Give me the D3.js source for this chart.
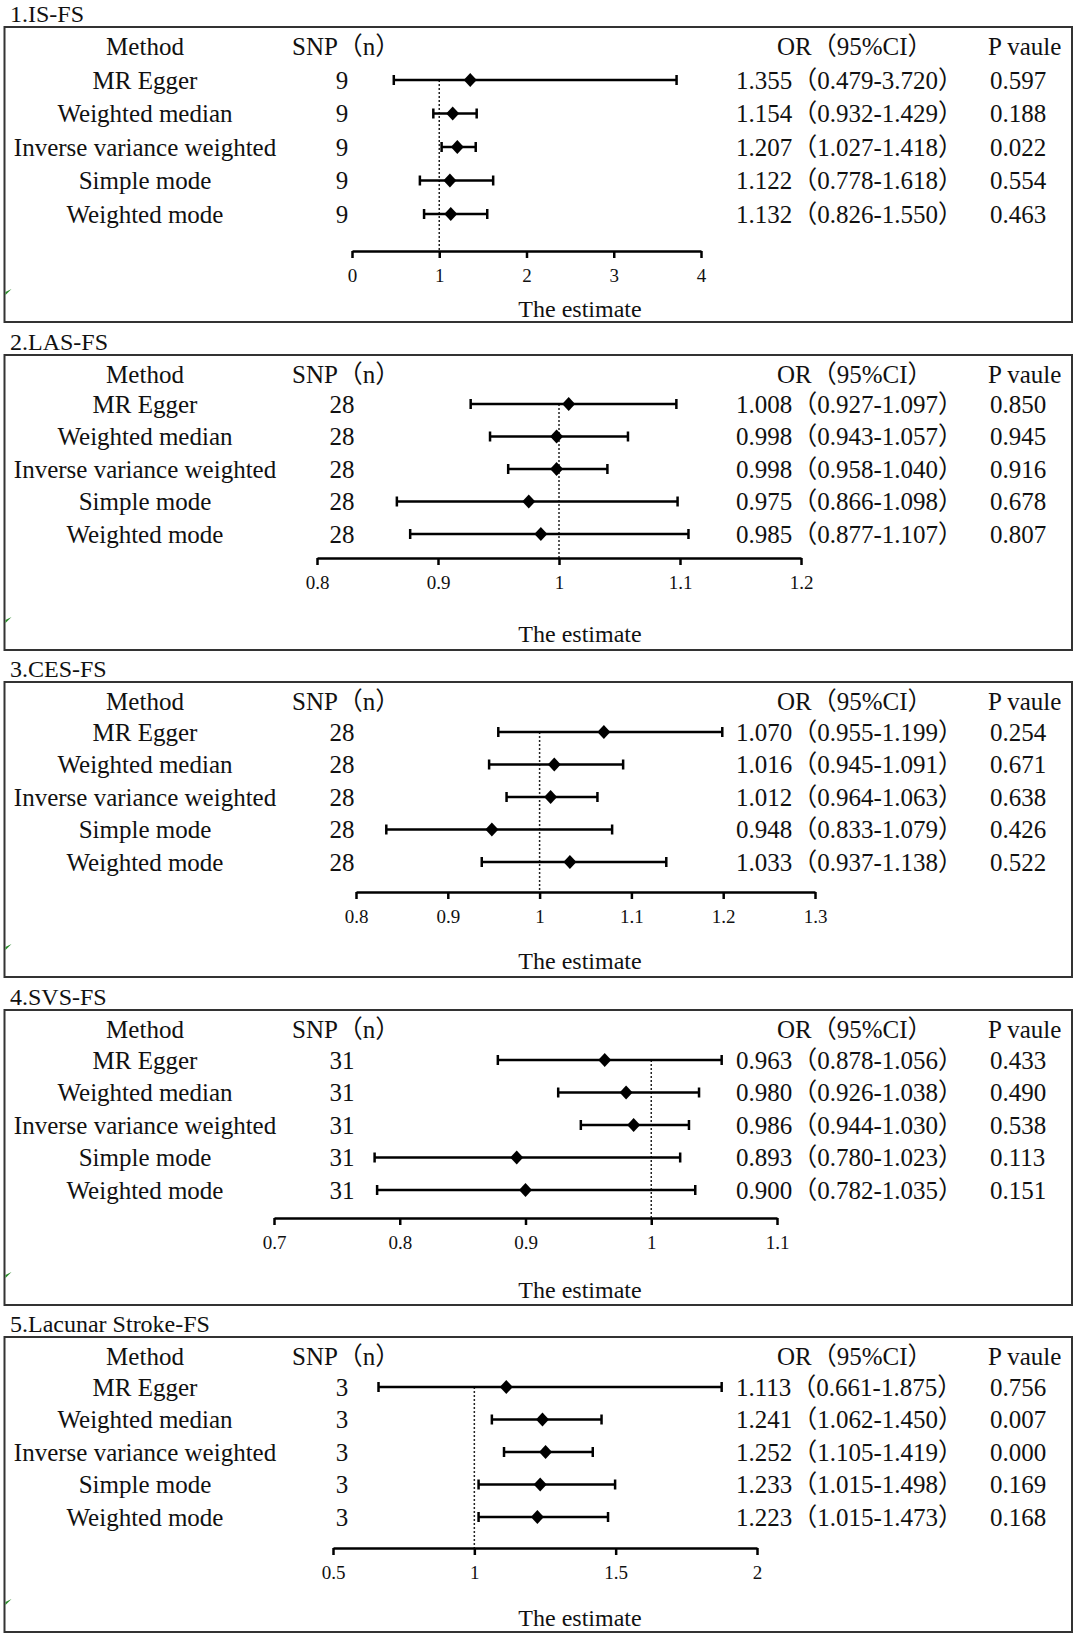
<!DOCTYPE html>
<html>
<head>
<meta charset="utf-8">
<script src="https://cdn.jsdelivr.net/npm/d3@7"></script>
<style>
body{margin:0;background:#fff;}
svg{display:block;}
svg text{font-family:"Liberation Serif","Times New Roman","Noto Sans CJK SC",serif;fill:#111;}
</style>
</head>
<body>
<svg id="chart" width="1080" height="1637"></svg>
<script>
// data
const panelTitles=["1.IS-FS","2.LAS-FS","3.CES-FS","4.SVS-FS","5.Lacunar Stroke-FS"];
const methods=["MR Egger","Weighted median","Inverse variance weighted","Simple mode","Weighted mode"];
const snpCounts=[9,28,28,31,3];
const orValues=[
    [1.355,1.154,1.207,1.122,1.132],
    [1.008,0.998,0.998,0.975,0.985],
    [1.070,1.016,1.012,0.948,1.033],
    [0.963,0.980,0.986,0.893,0.900],
    [1.113,1.241,1.252,1.233,1.223]
];
const ciLower=[
    [0.479,0.932,1.027,0.778,0.826],
    [0.927,0.943,0.958,0.866,0.877],
    [0.955,0.945,0.964,0.833,0.937],
    [0.878,0.926,0.944,0.780,0.782],
    [0.661,1.062,1.105,1.015,1.015]
];
const ciUpper=[
    [3.720,1.429,1.418,1.618,1.550],
    [1.097,1.057,1.040,1.098,1.107],
    [1.199,1.091,1.063,1.079,1.138],
    [1.056,1.038,1.030,1.023,1.035],
    [1.875,1.450,1.419,1.498,1.473]
];
const pValues=[
    [0.597,0.188,0.022,0.554,0.463],
    [0.850,0.945,0.916,0.678,0.807],
    [0.254,0.671,0.638,0.426,0.522],
    [0.433,0.490,0.538,0.113,0.151],
    [0.756,0.007,0.000,0.169,0.168]
];
const tickValues=[
    [0,1,2,3,4],
    [0.8,0.9,1,1.1,1.2],
    [0.8,0.9,1,1.1,1.2,1.3],
    [0.7,0.8,0.9,1,1.1],
    [0.5,1,1.5,2]
];

// layout of each panel (pixels)
const layout=[
    {top:27,  x0:352,x1:701,rowStart:53,rowStep:33.5,axis:224,est:282},
    {top:355, x0:317,x1:801,rowStart:49,rowStep:32.5,axis:203,est:279},
    {top:682, x0:356,x1:815,rowStart:50,rowStep:32.5,axis:210,est:279},
    {top:1010,x0:274,x1:777,rowStart:50,rowStep:32.5,axis:208,est:280},
    {top:1337,x0:333,x1:757,rowStart:50,rowStep:32.5,axis:211,est:281}
];
const boxLeft=4.5, boxRight=1072, boxH=295;
const col={method:145,snp:342,snpHead:292,or:736,orHead:777,p:990};

const svg=d3.select("#chart");

panelTitles.forEach((title,k)=>{
    const L=layout[k];
    const g=svg.append("g").attr("transform",`translate(0,${L.top})`);

    svg.append("text")
        .attr("x",10).attr("y",L.top-13)
        .attr("dominant-baseline","central")
        .attr("font-size",24)
        .text(title);

    g.append("rect")
        .attr("x",boxLeft).attr("y",0)
        .attr("width",boxRight-boxLeft).attr("height",boxH)
        .attr("fill","none").attr("stroke","#333").attr("stroke-width",2);

    // small green mark on left edge
    g.append("path")
        .attr("d",`M${boxLeft+1},${265} L${boxLeft+7},${262} L${boxLeft+1},${268} Z`)
        .attr("fill","#2a8a2a");

    const x=d3.scaleLinear()
        .domain([tickValues[k][0],tickValues[k][tickValues[k].length-1]])
        .range([L.x0,L.x1]);
    const y=d3.scalePoint()
        .domain(methods)
        .range([L.rowStart,L.rowStart+L.rowStep*(methods.length-1)]);

    // headers
    const head=g.append("g").attr("font-size",25);
    head.append("text").attr("x",col.method).attr("y",19).attr("text-anchor","middle").attr("dominant-baseline","central").text("Method");
    head.append("text").attr("x",col.snpHead).attr("y",19).attr("dominant-baseline","central").text("SNP（n）");
    head.append("text").attr("x",col.orHead).attr("y",19).attr("dominant-baseline","central").text("OR（95%CI）");
    head.append("text").attr("x",col.p-2).attr("y",19).attr("dominant-baseline","central").text("P vaule");

    const rows=methods.map((m,i)=>({
        method:m,n:snpCounts[k],or:orValues[k][i],lo:ciLower[k][i],hi:ciUpper[k][i],p:pValues[k][i]
    }));

    const txt=g.append("g").attr("font-size",25);
    txt.selectAll(".m").data(rows).enter().append("text")
        .attr("x",col.method).attr("y",d=>y(d.method))
        .attr("text-anchor","middle").attr("dominant-baseline","central")
        .text(d=>d.method);
    txt.selectAll(".n").data(rows).enter().append("text")
        .attr("x",col.snp).attr("y",d=>y(d.method))
        .attr("text-anchor","middle").attr("dominant-baseline","central")
        .text(d=>d.n);
    txt.selectAll(".o").data(rows).enter().append("text")
        .attr("x",col.or).attr("y",d=>y(d.method))
        .attr("dominant-baseline","central")
        .text(d=>`${d.or.toFixed(3)}（${d.lo.toFixed(3)}-${d.hi.toFixed(3)}）`);
    txt.selectAll(".p").data(rows).enter().append("text")
        .attr("x",col.p).attr("y",d=>y(d.method))
        .attr("dominant-baseline","central")
        .text(d=>d.p.toFixed(3));

    // reference line at 1
    g.append("line")
        .attr("x1",x(1)).attr("x2",x(1))
        .attr("y1",y(methods[0])).attr("y2",L.axis)
        .attr("stroke","#222").attr("stroke-width",1.5)
        .attr("stroke-dasharray","2,2");

    // error bars
    const bars=g.append("g").attr("stroke","#000").attr("stroke-width",2.5);
    bars.selectAll(".ci").data(rows).enter().append("line")
        .attr("x1",d=>x(d.lo)).attr("x2",d=>x(d.hi))
        .attr("y1",d=>y(d.method)).attr("y2",d=>y(d.method));
    bars.selectAll(".capl").data(rows).enter().append("line")
        .attr("x1",d=>x(d.lo)).attr("x2",d=>x(d.lo))
        .attr("y1",d=>y(d.method)-5).attr("y2",d=>y(d.method)+5);
    bars.selectAll(".caph").data(rows).enter().append("line")
        .attr("x1",d=>x(d.hi)).attr("x2",d=>x(d.hi))
        .attr("y1",d=>y(d.method)-5).attr("y2",d=>y(d.method)+5);

    g.selectAll(".pt").data(rows).enter().append("path")
        .attr("d",d=>{const cx=x(d.or),cy=y(d.method);return `M${cx},${cy-7} L${cx+6.5},${cy} L${cx},${cy+7} L${cx-6.5},${cy} Z`;})
        .attr("fill","#000");

    // axis
    const ax=g.append("g")
        .attr("transform",`translate(0,${L.axis})`)
        .call(d3.axisBottom(x).tickValues(tickValues[k]).tickSize(7).tickSizeOuter(0).tickPadding(11).tickFormat(d=>String(d)));
    ax.select(".domain").attr("stroke","#000").attr("stroke-width",2.5);
    ax.selectAll(".tick line").attr("stroke","#000").attr("stroke-width",2.5);
    ax.selectAll(".tick text")
        .attr("font-size",19)
        .attr("font-family",'"Liberation Serif","Times New Roman",serif')
        .attr("fill","#111");

    g.append("text")
        .attr("x",580).attr("y",L.est)
        .attr("text-anchor","middle").attr("dominant-baseline","central")
        .attr("font-size",24)
        .text("The estimate");
});
</script>
</body>
</html>
